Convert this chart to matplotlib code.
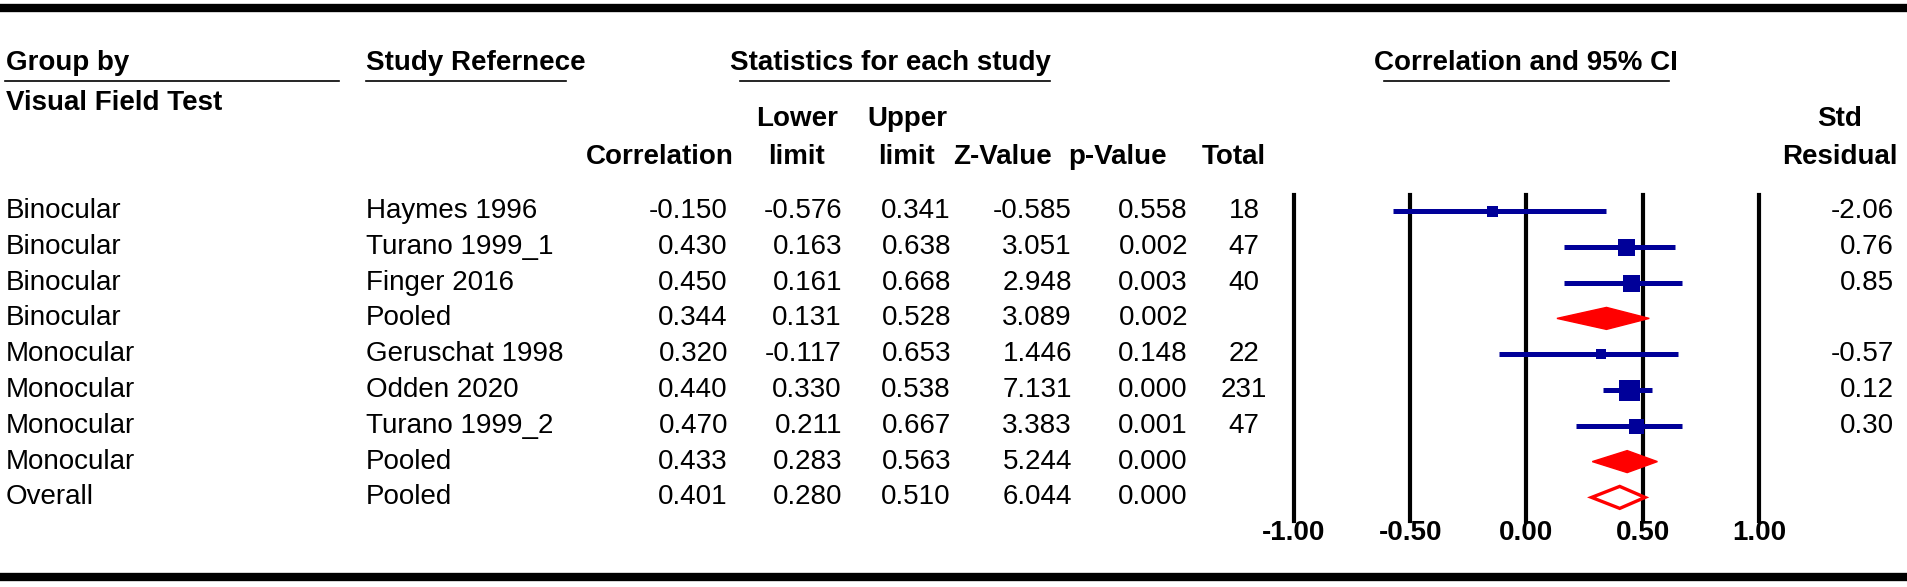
import matplotlib
matplotlib.use("Agg")
import matplotlib.pyplot as plt
from matplotlib.transforms import blended_transform_factory
from matplotlib.patches import Polygon
from matplotlib.lines import Line2D

plt.rcParams['font.family'] = ['Liberation Sans', 'DejaVu Sans']

# table data
groups = ["Binocular", "Binocular", "Binocular", "Binocular",
          "Monocular", "Monocular", "Monocular", "Monocular", "Overall"]
studies = ["Haymes 1996", "Turano 1999_1", "Finger 2016", "Pooled",
           "Geruschat 1998", "Odden 2020", "Turano 1999_2", "Pooled", "Pooled"]
corr = [-0.150, 0.430, 0.450, 0.344, 0.320, 0.440, 0.470, 0.433, 0.401]
lower = [-0.576, 0.163, 0.161, 0.131, -0.117, 0.330, 0.211, 0.283, 0.280]
upper = [0.341, 0.638, 0.668, 0.528, 0.653, 0.538, 0.667, 0.563, 0.510]
zval = [-0.585, 3.051, 2.948, 3.089, 1.446, 7.131, 3.383, 5.244, 6.044]
pval = [0.558, 0.002, 0.003, 0.002, 0.148, 0.000, 0.001, 0.000, 0.000]
total = ["18", "47", "40", "", "22", "231", "47", "", ""]
std_resid = ["-2.06", "0.76", "0.85", "", "-0.57", "0.12", "0.30", "", ""]
kind = ["study", "study", "study", "pooled", "study", "study", "study", "pooled", "overall"]
ticks = [-1.0, -0.5, 0.0, 0.5, 1.0]

# styling
box_px = [11, 17, 17, 0, 10, 21, 15, 0, 0]
navy = "#000099"
red = "#ff0000"
fs = 20

W, H = 1908, 587
fig = plt.figure(figsize=(W / 100, H / 100), dpi=100)
fig.patch.set_facecolor("white")

# forest axes: -1 -> 1294 px, 1 -> 1759 px, rows from y=211 step 35.8
top_px, bot_px = 195, 521
row0, step = 211, 35.8
ax = fig.add_axes([1294 / W, 1 - bot_px / H, 465 / W, (bot_px - top_px) / H])
ax.set_xlim(-1, 1)
ax.set_ylim((bot_px - row0) / step, (top_px - row0) / step)
ax.axis("off")

for t in ticks:
    ax.axvline(t, color="black", lw=3.0, zorder=1, clip_on=False)

half_h = 11 / step
for i in range(len(corr)):
    if kind[i] == "study":
        ax.plot([lower[i], upper[i]], [i, i], color=navy, lw=3.6, solid_capstyle="butt", zorder=3)
        ax.plot(corr[i], i, marker="s", ms=box_px[i] * 0.72, color=navy, mew=0, zorder=4)
    else:
        pts = [(lower[i], i), (corr[i], i - half_h), (upper[i], i), (corr[i], i + half_h)]
        if kind[i] == "pooled":
            d = Polygon(pts, closed=True, facecolor=red, edgecolor=red, lw=1, zorder=4)
        else:
            d = Polygon(pts, closed=True, facecolor="white", edgecolor=red, lw=2.4, zorder=4)
        ax.add_patch(d)

# tick labels under the axes
tick_tr = blended_transform_factory(ax.transData, fig.transFigure)
for t in ticks:
    ax.text(t, 1 - 533 / H, "%.2f" % t, transform=tick_tr, ha="center", va="center",
            fontsize=fs, fontweight="bold")

# table rows
row_tr = blended_transform_factory(fig.transFigure, ax.transData)
for i in range(len(corr)):
    ax.text(6 / W, i, groups[i], transform=row_tr, ha="left", va="center", fontsize=fs)
    ax.text(366 / W, i, studies[i], transform=row_tr, ha="left", va="center", fontsize=fs)
    ax.text(728 / W, i, "%.3f" % corr[i], transform=row_tr, ha="right", va="center", fontsize=fs)
    ax.text(842 / W, i, "%.3f" % lower[i], transform=row_tr, ha="right", va="center", fontsize=fs)
    ax.text(951 / W, i, "%.3f" % upper[i], transform=row_tr, ha="right", va="center", fontsize=fs)
    ax.text(1072 / W, i, "%.3f" % zval[i], transform=row_tr, ha="right", va="center", fontsize=fs)
    ax.text(1188 / W, i, "%.3f" % pval[i], transform=row_tr, ha="right", va="center", fontsize=fs)
    ax.text(1244 / W, i, total[i], transform=row_tr, ha="center", va="center", fontsize=fs)
    ax.text(1894 / W, i, std_resid[i], transform=row_tr, ha="right", va="center", fontsize=fs)


def hdr(x, y, s, ha="center"):
    fig.text(x / W, 1 - y / H, s, ha=ha, va="center", fontsize=fs, fontweight="bold")


hdr(6, 63, "Group by", ha="left")
hdr(366, 63, "Study Refernece", ha="left")
hdr(890, 63, "Statistics for each study")
hdr(1526, 63, "Correlation and 95% CI")
hdr(6, 103, "Visual Field Test", ha="left")
hdr(660, 157, "Correlation")
hdr(797, 119, "Lower")
hdr(797, 157, "limit")
hdr(907, 119, "Upper")
hdr(907, 157, "limit")
hdr(1003, 157, "Z-Value")
hdr(1118, 157, "p-Value")
hdr(1234, 157, "Total")
hdr(1840, 119, "Std")
hdr(1840, 157, "Residual")

# header underlines
for x0, x1 in [(5, 339), (366, 566), (740, 1050), (1384, 1669)]:
    fig.add_artist(Line2D([x0 / W, x1 / W], [1 - 81 / H, 1 - 81 / H],
                          transform=fig.transFigure, color="black", lw=1.2))

# thick rules top and bottom
for y in [8, 577]:
    fig.add_artist(Line2D([4 / W, 1904 / W], [1 - y / H, 1 - y / H],
                          transform=fig.transFigure, color="black", lw=6.0))

fig.savefig("out.png", dpi=100, facecolor="white")
